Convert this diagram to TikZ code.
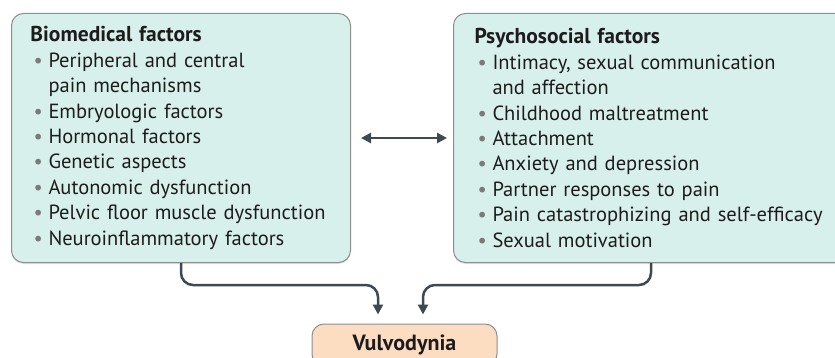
\documentclass[tikz,border=0pt]{standalone}
\usepackage{fontspec}
\setmainfont{PT Sans}
\usepackage{xcolor}
\usepackage{tikz}
\usetikzlibrary{positioning,calc,arrows.meta,shadows}

\definecolor{boxteal}{HTML}{D7F0EB}
\definecolor{boxedge}{HTML}{8E8E8E}
\definecolor{vulpeach}{HTML}{FCDDC2}
\definecolor{arrowgray}{HTML}{3D4A52}
\definecolor{dotgray}{HTML}{7A7A7A}
\definecolor{inkgray}{HTML}{1E1B1C}

\newcommand{\bul}{\hspace*{3pt}\makebox[15pt][l]{\textcolor{dotgray}{\textbullet}}}
\newcommand{\cnt}{\hspace*{18pt}}
\newcommand{\boxtitle}[1]{{\fontsize{21.5}{25.4}\selectfont\bfseries #1}}

\tikzset{
  factorbox/.style={draw=boxedge, fill=boxteal, line width=1pt, rounded corners=12pt,
    anchor=north west, align=left, minimum height=249pt, inner ysep=0pt,
    text=inkgray, font=\fontsize{20.5}{25.4}\selectfont,
    drop shadow={shadow xshift=0pt, shadow yshift=-1.5pt, opacity=0.25}},
  outcome/.style={draw=boxedge, fill=vulpeach, line width=1pt, rounded corners=12pt,
    minimum width=185pt, minimum height=42pt, text=inkgray,
    font=\fontsize{22}{26}\selectfont\bfseries},
  flow/.style={draw=arrowgray, line width=2.5pt, rounded corners=12pt,
    -{Triangle[length=10pt,width=10pt]}},
  link/.style={draw=arrowgray, line width=2.5pt,
    {Triangle[length=10pt,width=10pt]}-{Triangle[length=10pt,width=10pt]}}
}

\begin{document}
\begin{tikzpicture}[x=1pt,y=-1pt]
    \useasboundingbox (0,0) rectangle (835,358);

    % Factor boxes
    \node[factorbox, inner xsep=19pt, text width=301pt] (bio) at (11,13) {%
      \boxtitle{Biomedical factors}\\
      \bul Peripheral and central\\
      \cnt pain mechanisms\\
      \bul Embryologic factors\\
      \bul Hormonal factors\\
      \bul Genetic aspects\\
      \bul Autonomic dysfunction\\
      \bul Pelvic floor muscle dysfunction\\
      \bul Neuroinflammatory factors};
    \node[factorbox, inner xsep=21pt, text width=365pt] (psy) at (453,13) {%
      \boxtitle{Psychosocial factors}\\
      \bul Intimacy, sexual communication\\
      \cnt and affection\\
      \bul Childhood maltreatment\\
      \bul Attachment\\
      \bul Anxiety and depression\\
      \bul Partner responses to pain\\
      \bul Pain catastrophizing and self-efficacy\\
      \bul Sexual motivation};

    % Outcome
    \node[outcome] (vulvo) at (404.5,345) {Vulvodynia};
    \coordinate (lend) at ([xshift=-26.5pt,yshift=9pt]vulvo.north);
    \coordinate (rend) at ([xshift=18.5pt,yshift=9pt]vulvo.north);

    % Connectors
    \draw[link, shorten <=10pt, shorten >=6pt] (bio.east) -- (psy.west);
    \draw[flow] (bio.south) -- ++(0,22) -| (lend);
    \draw[flow] ([xshift=-6pt]psy.south) -- ++(0,22) -| (rend);
\end{tikzpicture}
\end{document}
